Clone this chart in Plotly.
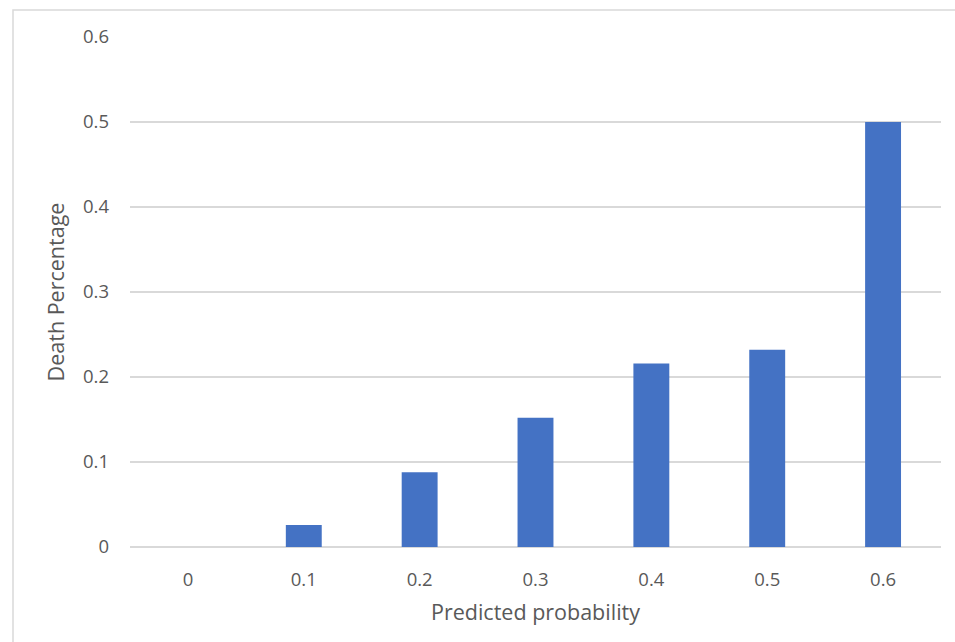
import plotly.graph_objects as go

categories = ["0", "0.1", "0.2", "0.3", "0.4", "0.5", "0.6"]
death_pct = [0.0, 0.026, 0.088, 0.152, 0.216, 0.232, 0.5]
y_ticks = [0, 0.1, 0.2, 0.3, 0.4, 0.5, 0.6]
y_tick_labels = ["0", "0.1", "0.2", "0.3", "0.4", "0.5", "0.6"]

font_color = "#595959"
grid_color = "#d9d9d9"

fig = go.Figure(go.Bar(
    x=categories, y=death_pct,
    marker=dict(color="#4472C4", line=dict(width=0)),
))

fig.update_layout(
    width=955, height=642,
    margin=dict(l=130, r=14, t=37, b=95),
    paper_bgcolor="white", plot_bgcolor="white",
    bargap=0.69,
    showlegend=False,
    font=dict(family="Open Sans", size=18.5, color=font_color),
    xaxis=dict(
        type="category",
        title=dict(text="Predicted probability", standoff=15, font=dict(size=21.5)),
        showgrid=False, showline=False, zeroline=False,
        ticks="", ticklabelstandoff=19,
    ),
    yaxis=dict(
        range=[0, 0.6],
        tickvals=y_ticks, ticktext=y_tick_labels,
        showgrid=True, gridcolor=grid_color, gridwidth=1.5,
        zeroline=True, zerolinecolor=grid_color, zerolinewidth=1.5,
        showline=False, ticks="", ticklabelstandoff=20,
        title=dict(text="Death Percentage", standoff=12, font=dict(size=21.5)),
    ),
    shapes=[dict(
        type="rect", xref="paper", yref="paper",
        x0=(13 - 130) / 811, x1=2, y0=-2, y1=1 + 27 / 510,
        line=dict(color=grid_color, width=1.5), fillcolor="rgba(0,0,0,0)",
        layer="below",
    )],
)

fig.write_html(
    "out.html",
    config={"displayModeBar": False},
    post_script="document.body.style.margin='0';document.body.style.overflow='hidden';",
)
